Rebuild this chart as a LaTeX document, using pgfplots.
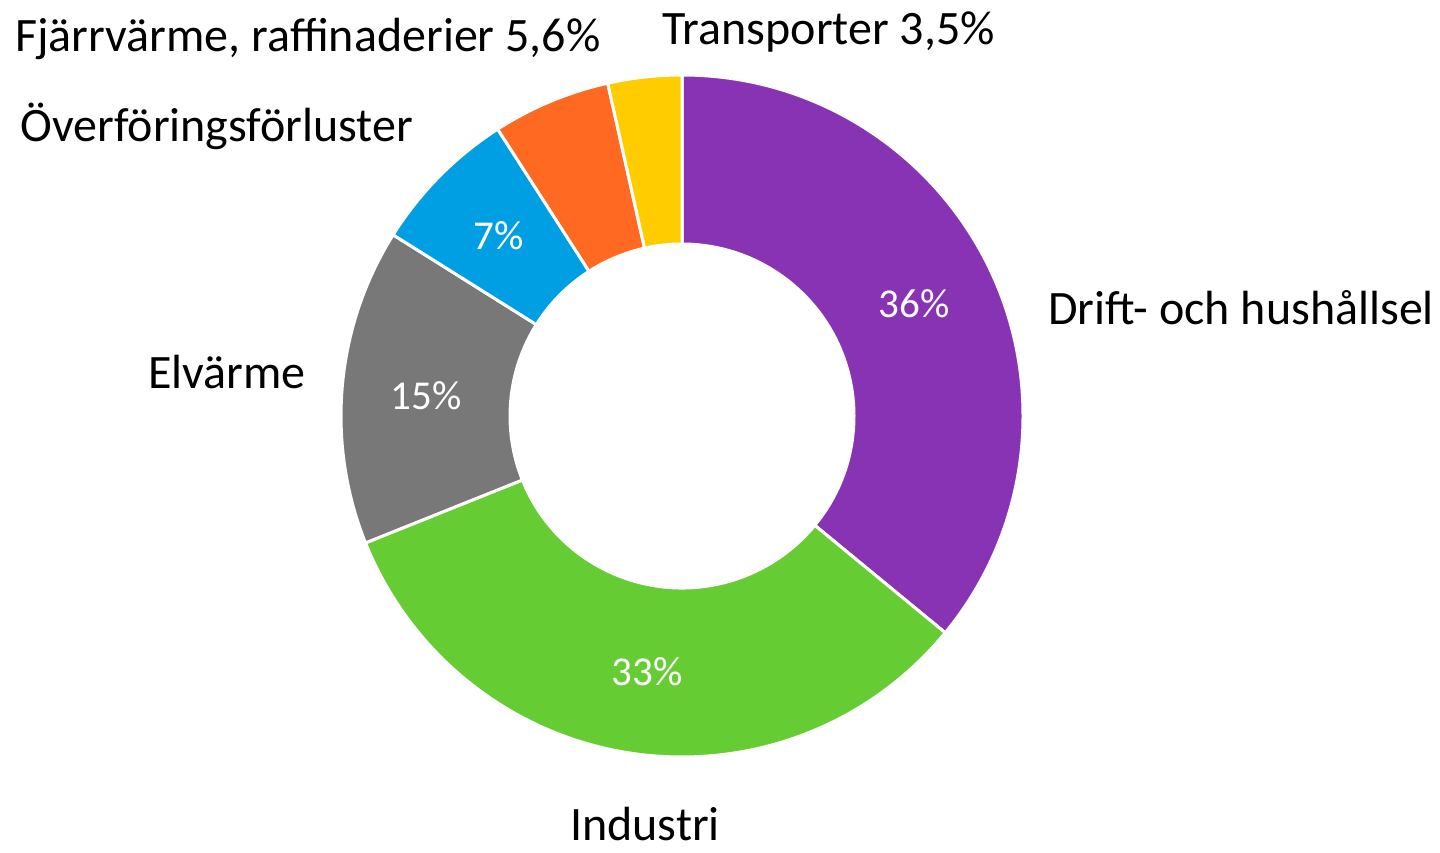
\documentclass[border=0pt]{standalone}
\usepackage{fontspec}
\setmainfont{Carlito}
\usepackage{pgfplots}
\pgfplotsset{compat=1.18}

\definecolor{cDrift}{HTML}{8833B4}
\definecolor{cInd}{HTML}{66CC33}
\definecolor{cElv}{HTML}{787878}
\definecolor{cOver}{HTML}{009FE3}
\definecolor{cFjar}{HTML}{FF6921}
\definecolor{cTrans}{HTML}{FFCC00}

% shares in percent, clockwise from 12 o'clock
\def\slices{36/cDrift,33/cInd,15/cElv,7/cOver,5.6/cFjar,3.5/cTrans}
\def\total{100.1}
\def\Rout{170.5pt}
\def\Rin{86pt}

\begin{document}
\begin{tikzpicture}
\begin{axis}[
  hide axis,
  scale only axis,
  width=720pt, height=426pt,
  xmin=0, xmax=1440, ymin=0, ymax=852,
  clip=false
]
\path (rel axis cs:0,0) rectangle (rel axis cs:1,1);
\coordinate (C) at (axis cs:682,436);
\gdef\curang{90}
\foreach \v/\c in \slices {
  \pgfmathsetmacro\e{\curang-\v*360/\total}
  \edef\temp{\noexpand\filldraw[fill=\c, draw=white, line width=1.5pt]
    (C) ++(\curang:\Rout) arc[start angle=\curang, end angle=\e, radius=\Rout]
    -- ([shift={(\e:\Rin)}]C) arc[start angle=\e, end angle=\curang, radius=\Rin] -- cycle;}
  \temp
  \xdef\curang{\e}
}

% outside labels
\begin{scope}[every node/.style={font=\fontsize{24}{28}\selectfont, inner sep=0pt}]
\node[anchor=base west] at (axis cs:1048,527) {Drift- och hushållsel};
\node[anchor=base] at (axis cs:645,12) {Industri};
\node[anchor=base west] at (axis cs:148,463) {Elvärme};
\node[anchor=base west] at (axis cs:20,710) {Överföringsförluster};
\node[anchor=base west] at (axis cs:15,800) {Fjärrvärme, raffinaderier 5,6\%};
\node[anchor=base west] at (axis cs:662,807) {Transporter 3,5\%};
\end{scope}

% inside labels
\begin{scope}[every node/.style={font=\fontsize{20.5}{24}\selectfont, text=white, inner sep=0pt, anchor=base}]
\node at (axis cs:914,534) {36\%};
\node at (axis cs:647,167) {33\%};
\node at (axis cs:426,442) {15\%};
\node at (axis cs:499,602) {7\%};
\end{scope}
\end{axis}
\end{tikzpicture}
\end{document}
